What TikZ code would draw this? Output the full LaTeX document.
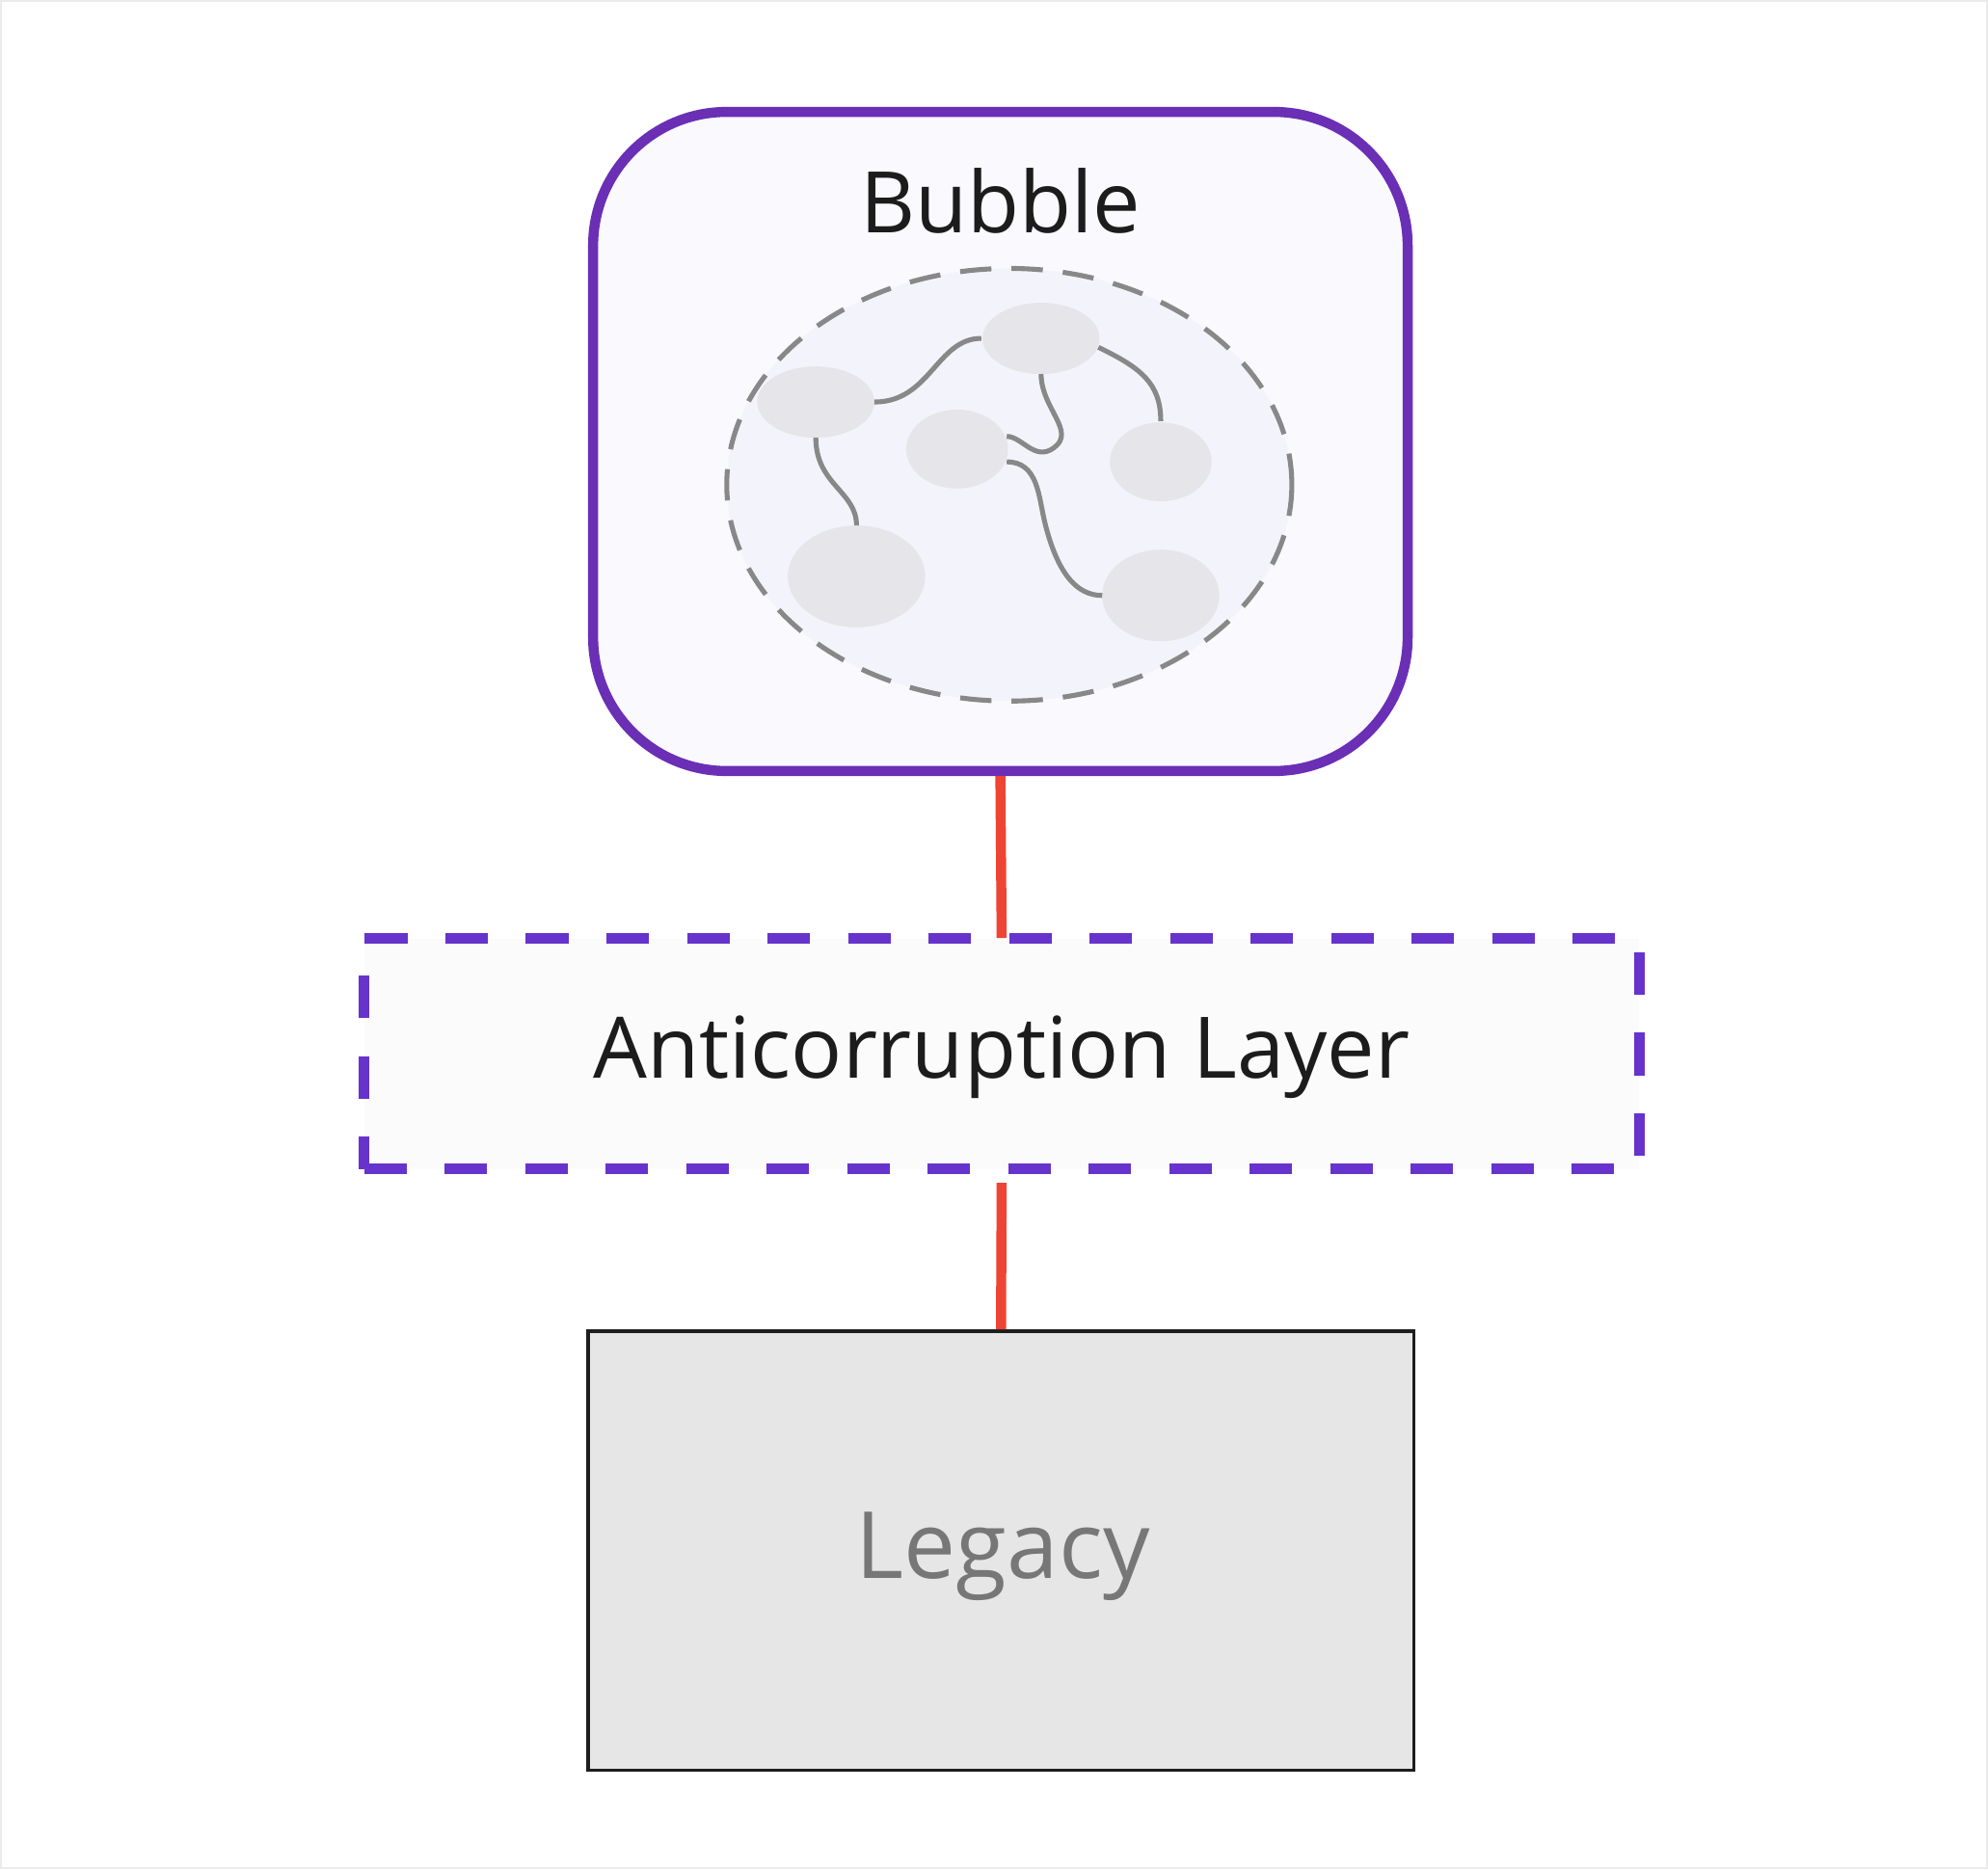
\documentclass[tikz,border=0pt]{standalone}
\usepackage{fontspec}
\usetikzlibrary{shapes.geometric}
\setmainfont{Open Sans}
\definecolor{purp}{HTML}{6A2FB5}
\definecolor{purpd}{HTML}{6633CC}
\definecolor{redl}{HTML}{EE4433}
\definecolor{grayl}{HTML}{888888}
\definecolor{blob}{HTML}{E5E5EA}
\tikzset{
 blobst/.style={fill=blob,draw=none},
 wire/.style={draw=grayl,line width=2.2pt},
 conn/.style={draw=redl,line width=4.5pt},
}
\begin{document}
\begin{tikzpicture}[x=0.02cm,y=-0.02cm]
\useasboundingbox[fill=white,draw={rgb,255:red,235;green,235;blue,235},line width=1pt] (0,0) rectangle (1560,1467);
\node[draw=purp,line width=4.5pt,fill={rgb,255:red,249;green,249;blue,254},rounded corners=2.1cm,minimum width=12.8cm,minimum height=10.36cm,inner sep=0] (bubble) at (785,346) {};
\node[font=\fontsize{38}{44}\selectfont,text={rgb,255:red,28;green,28;blue,28}] (btitle) at (785,157) {Bubble};
\node[draw=grayl,dashed,dash pattern=on 14pt off 9pt,line width=2.2pt,fill={rgb,255:red,243;green,244;blue,251},ellipse,minimum width=8.88cm,minimum height=6.8cm,inner sep=0] (cloud) at (792,380) {};
\fill[blobst] (640,315) ellipse [x radius=46,y radius=28];
\fill[blobst] (817,265) ellipse [x radius=46,y radius=28];
\fill[blobst] (751,352) ellipse [x radius=40,y radius=31];
\fill[blobst] (911,362) ellipse [x radius=40,y radius=31];
\fill[blobst] (672,452) ellipse [x radius=54,y radius=40];
\fill[blobst] (911,467) ellipse [x radius=46,y radius=36];
\draw[wire] (686,315) .. controls (730,315) and (735,265) .. (770,265);
\draw[wire] (640,343) .. controls (640,380) and (672,385) .. (672,412);
\draw[wire] (817,293) .. controls (817,320) and (845,338) .. (827,351) .. controls (812,362) and (802,342) .. (790,342);
\draw[wire] (862,272) .. controls (895,288) and (911,300) .. (911,330);
\draw[wire] (790,362) .. controls (815,362) and (815,390) .. (820,410) .. controls (830,450) and (845,467) .. (865,467);
\node[draw=purpd,line width=4.5pt,dash pattern=on 19pt off 17pt,fill={rgb,255:red,251;green,251;blue,251},minimum width=20.04cm,minimum height=3.62cm,inner sep=0] (acl) at (786,827) {};
\node[font=\fontsize{38}{44}\selectfont,text={rgb,255:red,28;green,28;blue,28}] at (786,830) {Anticorruption Layer};
\node[draw={rgb,255:red,30;green,30;blue,30},line width=1.6pt,fill={rgb,255:red,230;green,230;blue,230},minimum width=12.98cm,minimum height=6.9cm,inner sep=0] (legacy) at (785.5,1217.5) {};
\node[font=\fontsize{41.5}{48}\selectfont,text={rgb,255:red,119;green,119;blue,119}] at (787,1222) {Legacy};
\draw[conn] (bubble.south) -- ([yshift=-2pt]acl.north);
\draw[conn] ([yshift=-4pt]acl.south) -- (legacy.north);
\end{tikzpicture}
\end{document}
